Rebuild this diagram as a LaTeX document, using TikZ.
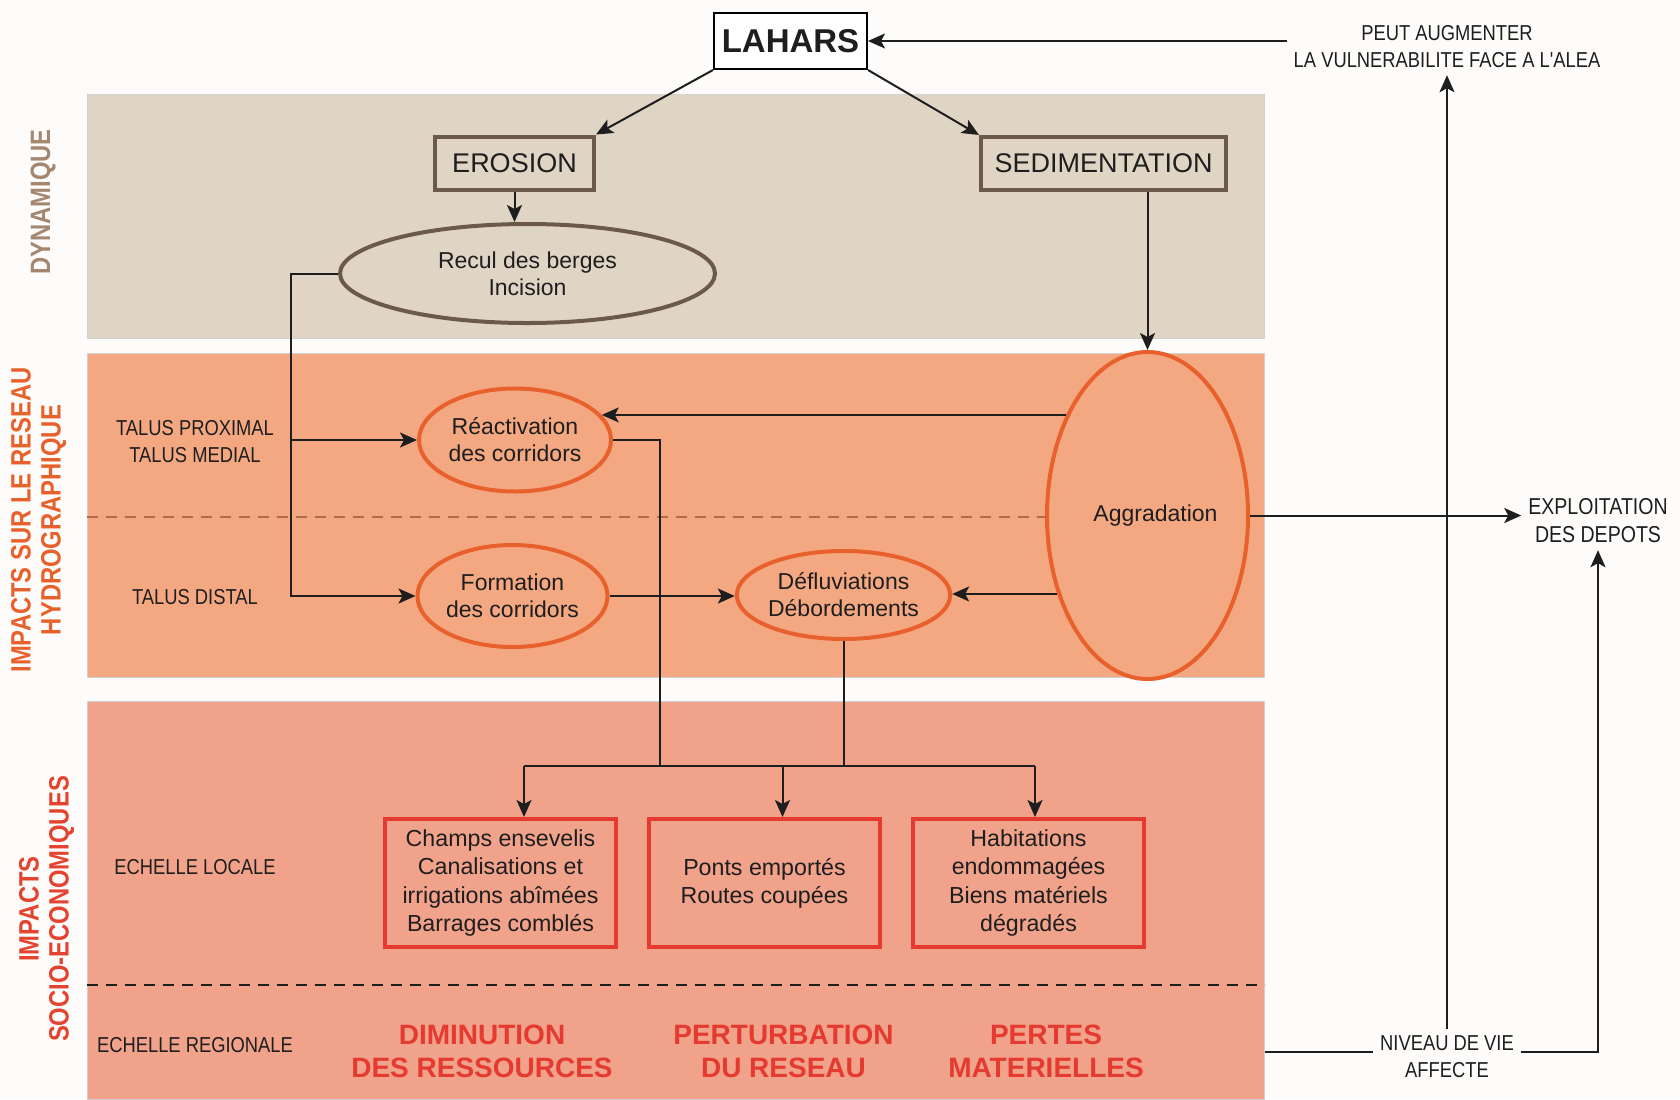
\documentclass[tikz,border=0pt]{standalone}
\usepackage{fontspec}
\setmainfont{Liberation Sans}
\newfontfamily\narrowfont[FakeStretch=0.85]{Liberation Sans}
\usepackage{xcolor}
\usepackage{tikz}
\usetikzlibrary{
    arrows.meta,
    positioning,
    shapes.geometric
}
\definecolor{paperbg}{HTML}{FDFCFA}
\definecolor{dynfill}{HTML}{E0D5C4}
\definecolor{dynedge}{HTML}{6B5A4C}
\definecolor{dyntext}{HTML}{A58770}
\definecolor{hydrofill}{HTML}{F4A882}
\definecolor{sociofill}{HTML}{F1A28A}
\definecolor{ellipedge}{HTML}{E8602C}
\definecolor{boxedge}{HTML}{E53A30}
\definecolor{hydrotext}{HTML}{E8602C}
\definecolor{sociotext}{HTML}{E4432F}
\definecolor{inkdark}{HTML}{1E1E1E}

\begin{document}
\begin{tikzpicture}[
    x=0.5pt, y=-0.5pt,
    panel/.style={rectangle, draw=black!18, line width=0.5pt, inner sep=0pt},
    brownbox/.style={rectangle, draw=dynedge, line width=2pt, fill=dynfill, inner sep=0pt, minimum height=26.5pt, font=\fontsize{13.5}{16}\selectfont, text=inkdark},
    bubble/.style={ellipse, draw=ellipedge, line width=2pt, fill=hydrofill, inner sep=0pt, align=center, font=\fontsize{11.5}{13.5}\selectfont, text=inkdark},
    impactbox/.style={rectangle, draw=boxedge, line width=2pt, fill=sociofill, inner sep=0pt, minimum width=115.5pt, minimum height=64pt, align=center, font=\fontsize{11.6}{14.1}\selectfont, text=inkdark},
    scale label/.style={align=center, font=\narrowfont\fontsize{10.8}{13.5}\selectfont, text=inkdark},
    outcome/.style={align=center, font=\bfseries\fontsize{14}{16.5}\selectfont, text=boxedge},
    side/.style={rotate=90, align=center, font=\narrowfont\bfseries\fontsize{14}{15}\selectfont},
    conn/.style={line width=1pt, inkdark},
    arr/.style={conn, -{Stealth[length=8.5pt, width=7.5pt, inset=2pt]}},
    dashline/.style={line width=0.6pt, dash pattern=on 5.5pt off 4pt},
]
    \useasboundingbox[fill=paperbg] (0,0) rectangle (1680,1099);

    % Bands
    \node[panel, fill=dynfill, minimum width=588.5pt, minimum height=122pt] (dyn) at (675.5,216) {};
    \node[panel, fill=hydrofill, minimum width=588.5pt, minimum height=162pt] (hydro) at (675.5,515) {};
    \node[panel, fill=sociofill, minimum width=588.5pt, minimum height=199pt] (socio) at (675.5,900.5) {};

    \node[side, text=dyntext] (sdyn) at (43,202) {DYNAMIQUE};
    \node[side, text=hydrotext] (shydro) at (38.5,520) {IMPACTS SUR LE RESEAU\\HYDROGRAPHIQUE};
    \node[side, text=sociotext] (ssocio) at (46.5,909) {IMPACTS\\SOCIO-ECONOMIQUES};

    % Dynamique
    \node[rectangle, draw=black, line width=1pt, fill=white, minimum width=76.5pt, minimum height=28pt, inner sep=0pt,
          font=\bfseries\fontsize{16.5}{18}\selectfont, text=inkdark] (lahars) at (790.5,41) {LAHARS};
    \node[brownbox, minimum width=79.5pt] (erosion) at (514.5,163) {EROSION};
    \node[brownbox, minimum width=122.5pt] (sedim) at (1103.5,163.5) {SEDIMENTATION};
    \node[bubble, draw=dynedge, fill=dynfill, minimum width=187.5pt, minimum height=49.5pt] (recul) at (527.5,273.5) {Recul des berges\\Incision};

    % Reseau hydrographique
    \node[scale label] (talushaut) at (195,442) {TALUS PROXIMAL\\TALUS MEDIAL};
    \node[scale label] (talusbas) at (195,597) {TALUS DISTAL};
    \draw[dashline, draw=ellipedge!70!black!80] (hydro.west |- 0,517) -- (1047,517);
    \node[bubble, minimum width=96pt, minimum height=51.5pt] (reactiv) at (515,440) {Réactivation\\des corridors};
    \node[bubble, minimum width=95pt, minimum height=51pt] (formation) at (512.5,596) {Formation\\des corridors};
    \node[bubble, minimum width=106.5pt, minimum height=44pt] (deflu) at (843.5,595) {Défluviations\\Débordements};
    \node[bubble, minimum width=100.5pt, minimum height=163.5pt] (aggrad) at (1147.5,515.5) {\hspace*{8pt}Aggradation};

    % Socio-economique
    \node[scale label] (locale) at (195,867) {ECHELLE LOCALE};
    \node[scale label] (regionale) at (195,1045) {ECHELLE REGIONALE};
    \draw[dashline, draw=inkdark] (socio.west |- 0,985) -- (socio.east |- 0,985);
    \node[impactbox] (champs) at (500.5,883) {Champs ensevelis\\Canalisations et\\irrigations abîmées\\Barrages comblés};
    \node[impactbox] (ponts) at (764.5,883) {Ponts emportés\\Routes coupées};
    \node[impactbox] (habit) at (1028.5,883) {Habitations\\endommagées\\Biens matériels\\dégradés};
    \node[outcome] (dimin) at (482,1051) {DIMINUTION\\DES RESSOURCES};
    \node[outcome] (perturb) at (783.5,1051) {PERTURBATION\\DU RESEAU};
    \node[outcome] (pertes) at (1046,1051) {PERTES\\MATERIELLES};

    % Hors cadre
    \node[scale label] (peut) at (1447,47) {PEUT AUGMENTER\\LA VULNERABILITE FACE A L'ALEA};
    \node[scale label, font=\narrowfont\fontsize{11.5}{14}\selectfont] (exploit) at (1598,521) {EXPLOITATION\\DES DEPOTS};
    \node[scale label] (niveau) at (1447,1057) {NIVEAU DE VIE\\AFFECTE};

    % Liens
    \draw[arr] (lahars.south west) -- (erosion.north east);
    \draw[arr] (lahars.south east) -- (sedim.north west);
    \draw[arr] (erosion.south) -- (erosion.south |- recul.north);
    \draw[arr] (sedim.south -| aggrad.north) -- (aggrad.north);

    \coordinate (trunk) at (291,273.5);
    \draw[arr] (recul.west) -- (trunk) |- (formation.west);
    \draw[arr] (trunk |- reactiv.west) -- (reactiv.west);
    \draw[arr] (aggrad.129) -- (reactiv.16 |- aggrad.129);
    \draw[arr] (aggrad.221) -- (deflu.east |- aggrad.221);
    \draw[arr] (formation.east) -- (formation.east -| deflu.west);

    \coordinate (drop) at (660,766);
    \coordinate (busL) at (524,766);
    \coordinate (busM) at (782.5,766);
    \coordinate (busR) at (1035,766);
    \draw[conn] (reactiv.east) -| (drop);
    \draw[conn] (deflu.south) -- (deflu.south |- drop);
    \draw[conn] (busL) -- (busR);
    \draw[arr] (busL) -- (busL |- champs.north);
    \draw[arr] (busM) -- (busM |- ponts.north);
    \draw[arr] (busR) -- (busR |- habit.north);

    \draw[arr] (aggrad.east) -- (aggrad.east -| exploit.west);
    \draw[arr] (niveau.north) -- (peut.south);
    \draw[arr] (peut.west |- lahars.east) -- (lahars.east);
    \draw[conn] (socio.east |- 0,1052) -- ([yshift=2.5pt]niveau.west);
    \draw[arr] ([yshift=2.5pt]niveau.east) -| (exploit.south);
\end{tikzpicture}
\end{document}
